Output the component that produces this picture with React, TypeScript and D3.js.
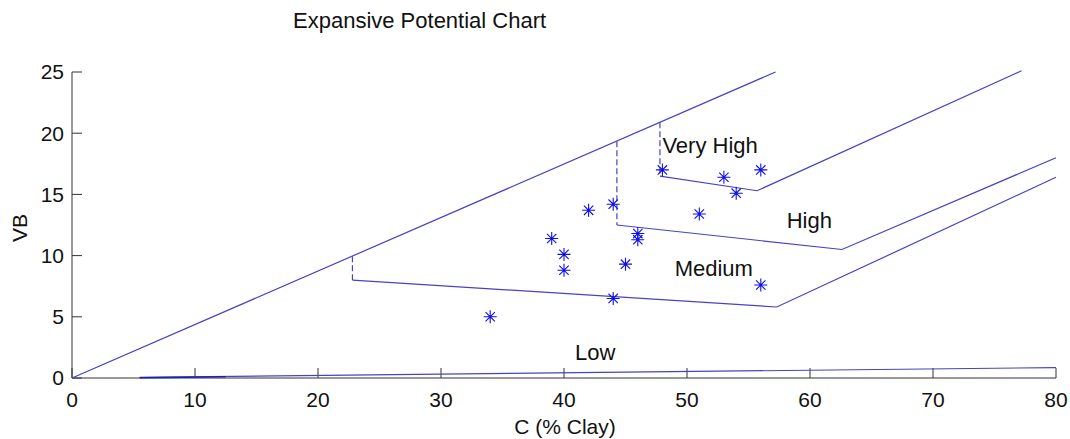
import React, { useEffect, useRef } from 'react';
import * as d3 from 'd3';

// boundary lines (x = % clay, y = VB)
const outerLine: [number, number][] = [[0, 0], [57.2, 25]];
const lowLine: [number, number][] = [[5.5, 0.05], [80, 0.85]];
const mediumDash: [number, number][] = [[22.8, 9.95], [22.8, 8.0]];
const mediumLine: [number, number][] = [[22.8, 8.0], [57.3, 5.8], [80, 16.4]];
const highDash: [number, number][] = [[44.3, 19.35], [44.3, 12.5]];
const highLine: [number, number][] = [[44.3, 12.5], [62.6, 10.5], [80, 18.0]];
const veryHighDash: [number, number][] = [[47.8, 20.9], [47.8, 16.5]];
const veryHighLine: [number, number][] = [[47.8, 16.5], [55.7, 15.3], [77.2, 25.1]];

// samples
const clay = [34, 39, 40, 40, 42, 44, 44, 45, 46, 46, 48, 51, 53, 54, 56, 56];
const vb = [5.0, 11.4, 10.1, 8.8, 13.7, 14.2, 6.5, 9.3, 11.8, 11.3, 17.0, 13.4, 16.4, 15.1, 17.0, 7.6];

const zoneLabels = ['Very High', 'High', 'Medium', 'Low'];
const zoneX = [48, 58.1, 49, 40.9];
const zoneY = [19.0, 12.9, 9.0, 2.1];

const xTicks = [0, 10, 20, 30, 40, 50, 60, 70, 80];
const yTicks = [0, 5, 10, 15, 20, 25];

const W = 1070;
const H = 439;
const FONT = 'Arial, "Liberation Sans", sans-serif';

function App() {
  const svgRef = useRef<SVGSVGElement>(null);

  useEffect(() => {
    const svg = d3.select(svgRef.current);
    svg.selectAll('*').remove();

    const x = d3.scaleLinear().domain([0, 80]).range([72, 1056]);
    const y = d3.scaleLinear().domain([0, 25]).range([378, 72]);

    const lineColor = '#4444c4';
    const line = d3.line<[number, number]>().x(d => x(d[0])).y(d => y(d[1]));

    // title
    svg.append('text')
      .attr('x', 293).attr('y', 28)
      .attr('font-family', FONT).attr('font-size', 22)
      .attr('fill', '#111')
      .text('Expansive Potential Chart');

    // axes (box off: left and bottom only)
    const axisColor = '#333';
    svg.append('line')
      .attr('x1', x(0)).attr('x2', x(80)).attr('y1', y(0)).attr('y2', y(0))
      .attr('stroke', axisColor);
    svg.append('line')
      .attr('x1', x(0)).attr('x2', x(0)).attr('y1', y(0)).attr('y2', y(25))
      .attr('stroke', axisColor);

    xTicks.forEach(t => {
      svg.append('line')
        .attr('x1', x(t)).attr('x2', x(t)).attr('y1', y(0)).attr('y2', y(0) - 10)
        .attr('stroke', axisColor);
      svg.append('text')
        .attr('x', x(t)).attr('y', 407)
        .attr('text-anchor', 'middle')
        .attr('font-family', FONT).attr('font-size', 21)
        .attr('fill', '#111')
        .text(t);
    });
    yTicks.forEach(t => {
      svg.append('line')
        .attr('x1', x(0)).attr('x2', x(0) + 10).attr('y1', y(t)).attr('y2', y(t))
        .attr('stroke', axisColor);
      svg.append('text')
        .attr('x', 64).attr('y', y(t))
        .attr('dy', '0.35em')
        .attr('text-anchor', 'end')
        .attr('font-family', FONT).attr('font-size', 21)
        .attr('fill', '#111')
        .text(t);
    });

    svg.append('text')
      .attr('x', 565).attr('y', 434)
      .attr('text-anchor', 'middle')
      .attr('font-family', FONT).attr('font-size', 21)
      .attr('fill', '#111')
      .text('C (% Clay)');
    svg.append('text')
      .attr('transform', `translate(27,${228}) rotate(-90)`)
      .attr('text-anchor', 'middle')
      .attr('font-family', FONT).attr('font-size', 21)
      .attr('fill', '#111')
      .text('VB');

    // zone boundaries
    const solid = [outerLine, lowLine, mediumLine, highLine, veryHighLine];
    solid.forEach(pts => {
      svg.append('path')
        .attr('d', line(pts))
        .attr('fill', 'none')
        .attr('stroke', lineColor)
        .attr('stroke-width', 1.2);
    });
    svg.append('path')
      .attr('d', line([[5.5, 0.02], [12.5, 0.1]]))
      .attr('fill', 'none')
      .attr('stroke', '#2020b0')
      .attr('stroke-width', 1.5);
    [mediumDash, highDash, veryHighDash].forEach(pts => {
      svg.append('path')
        .attr('d', line(pts))
        .attr('fill', 'none')
        .attr('stroke', lineColor)
        .attr('stroke-width', 1.2)
        .attr('stroke-dasharray', '6,3');
    });

    // zone labels
    zoneLabels.forEach((lab, i) => {
      svg.append('text')
        .attr('x', x(zoneX[i])).attr('y', y(zoneY[i]))
        .attr('dy', '0.35em')
        .attr('font-family', FONT).attr('font-size', 22)
        .attr('fill', '#111')
        .text(lab);
    });

    // star markers
    const r = 6.5;
    const d = r * 0.72;
    const star = `M0,${-r}V${r}M${-r},0H${r}M${-d},${-d}L${d},${d}M${-d},${d}L${d},${-d}`;
    clay.forEach((c, i) => {
      svg.append('path')
        .attr('transform', `translate(${x(c)},${y(vb[i])})`)
        .attr('d', star)
        .attr('fill', 'none')
        .attr('stroke', '#1010e8')
        .attr('stroke-width', 1.1);
    });
  }, []);

  return (
    <svg
      ref={svgRef}
      width={W}
      height={H}
      style={{ position: 'absolute', left: 0, top: 0, background: '#fff' }}
    />
  );
}

export default App;
